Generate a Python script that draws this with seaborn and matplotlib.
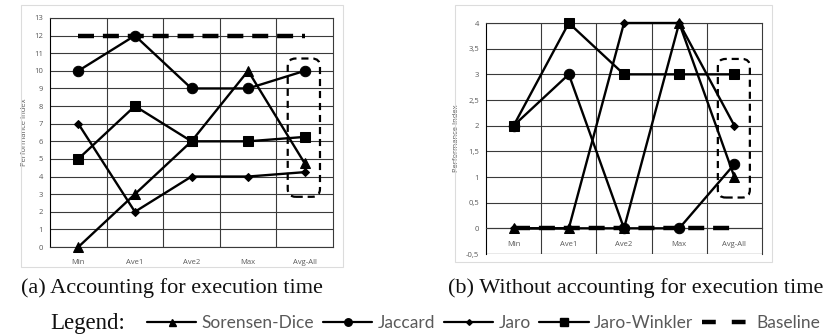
import numpy as np
import pandas as pd
import matplotlib
matplotlib.use("Agg")
import matplotlib.pyplot as plt
import seaborn as sns
from matplotlib.lines import Line2D
from matplotlib.patches import FancyBboxPatch, Rectangle

# ---- data -------------------------------------------------------------
categories = ["Min", "Ave1", "Ave2", "Max", "Avg-All"]
series_names = ["Sorensen-Dice", "Jaccard", "Jaro", "Jaro-Winkler", "Baseline"]

# (a) accounting for execution time
a_sorensen = [0, 3, 6, 10, 4.75]
a_jaccard = [10, 12, 9, 9, 10]
a_jaro = [7, 2, 4, 4, 4.25]
a_winkler = [5, 8, 6, 6, 6.25]
a_baseline = [12, 12, 12, 12, 12]

# (b) without accounting for execution time
b_sorensen = [0, 0, 0, 4, 1]
b_jaccard = [2, 3, 0, 0, 1.25]
b_jaro = [0, 0, 4, 4, 2]
b_winkler = [2, 4, 3, 3, 3]
b_baseline = [0, 0, 0, 0, 0]

a_yticks = list(range(0, 14))
a_ytick_labels = [str(v) for v in a_yticks]
b_yticks = [-0.5, 0, 0.5, 1, 1.5, 2, 2.5, 3, 3.5, 4]
b_ytick_labels = ["-0,5", "0", "0,5", "1", "1,5", "2", "2,5", "3", "3,5", "4"]

captions = ["(a) Accounting for execution time",
            "(b) Without accounting for execution time"]

# ---- styling ----------------------------------------------------------
sns.set_theme(style="white")
plt.rcParams["font.family"] = ["Open Sans", "DejaVu Sans"]

W, H = 826, 336
fig = plt.figure(figsize=(W / 100, H / 100), dpi=100)

markers = {"Sorensen-Dice": ("^", 7), "Jaccard": ("o", 7.5),
           "Jaro": ("D", 4), "Jaro-Winkler": ("s", 7.5)}
tick_color = "#595959"
grid_color = "#3a3a3a"


def px_axes(x0, y_top, x1, y_bot):
    return fig.add_axes([x0 / W, 1 - y_bot / H, (x1 - x0) / W, (y_bot - y_top) / H])


def frame(x0, y0, x1, y1):
    fig.patches.append(Rectangle((x0 / W, 1 - y1 / H), (x1 - x0) / W, (y1 - y0) / H,
                                 transform=fig.transFigure, fill=False,
                                 edgecolor="#dcdcdc", linewidth=0.8))


def draw_panel(ax, values, ylim, yticks, ylabels, box):
    df = pd.DataFrame({"cat": np.tile(categories, len(series_names)),
                       "series": np.repeat(series_names, len(categories)),
                       "value": np.concatenate(values)})
    # baseline first so the method lines sit on top of it
    base = df[df.series == "Baseline"]
    sns.lineplot(data=base, x="cat", y="value", ax=ax, color="black",
                 linewidth=3.2, dashes=False, sort=False, zorder=3)
    ax.lines[-1].set_dashes([3.6, 2.0])
    for name in series_names[:-1]:
        sub = df[df.series == name]
        m, ms = markers[name]
        sns.lineplot(data=sub, x="cat", y="value", ax=ax, color="black",
                     linewidth=1.7, marker=m, markersize=ms,
                     markeredgecolor="black", sort=False, zorder=4)
    for ln in ax.lines:
        ln.set_clip_on(False)
    ax.set_xlim(-0.5, len(categories) - 0.5)
    ax.set_ylim(*ylim)
    ax.set_yticks(yticks)
    ax.set_yticklabels(ylabels)
    ax.set_xticks(range(len(categories)))
    ax.set_xticklabels(categories)
    ax.set_xlabel("")
    ax.set_ylabel("Performance Index", fontsize=5.5, color=tick_color, labelpad=4)
    ax.tick_params(axis="both", length=0, labelsize=5.5, labelcolor=tick_color)
    ax.tick_params(axis="x", pad=9)
    ax.tick_params(axis="y", pad=5)
    for y in yticks:
        ax.axhline(y, color=grid_color, linewidth=0.8, zorder=1)
    for xb in np.arange(0.5, len(categories) - 0.5, 1.0):
        ax.axvline(xb, color=grid_color, linewidth=0.8, zorder=1)
    for s in ax.spines.values():
        s.set_visible(True)
        s.set_color(grid_color)
        s.set_linewidth(0.8)
    ax.spines["left"].set_color("black")
    ax.set_facecolor("none")
    # dashed rounded box around the overall average
    (bx0, bx1), (by0, by1) = box
    ax_w = ax.get_position().width * W / (len(categories))
    ax_h = ax.get_position().height * H / (ylim[1] - ylim[0])
    patch = FancyBboxPatch((bx0, by0), bx1 - bx0, by1 - by0,
                           boxstyle="round,pad=0,rounding_size=0.14",
                           mutation_aspect=ax_w / ax_h, fill=False,
                           edgecolor="black", linewidth=1.6,
                           linestyle=(0, (3.2, 2.2)), zorder=5)
    ax.add_patch(patch)


# panel (a)
frame(21, 5, 343, 267)
ax_a = px_axes(50, 18, 333, 247)
draw_panel(ax_a, [a_sorensen, a_jaccard, a_jaro, a_winkler, a_baseline],
           (0, 13), a_yticks, a_ytick_labels, ((3.7, 4.27), (2.85, 10.7)))

# panel (b)
frame(455, 5, 772, 262)
ax_b = px_axes(486, 23, 762, 254)
draw_panel(ax_b, [b_sorensen, b_jaccard, b_jaro, b_winkler, b_baseline],
           (-0.5, 4), b_yticks, b_ytick_labels, ((3.7, 4.28), (0.6, 3.3)))
ax_b.spines["bottom"].set_position(("data", 0))
ax_b.spines["bottom"].set_color(grid_color)
ax_b.axhline(-0.5, color=grid_color, linewidth=0.8, zorder=1)

# captions
serif = ["Liberation Serif", "DejaVu Serif"]
fig.text(172 / W, 1 - 288 / H, captions[0], family=serif, fontsize=16,
         va="center", ha="center", color="#111111")
fig.text(636 / W, 1 - 288 / H, captions[1], family=serif, fontsize=16,
         va="center", ha="center", color="#111111")
fig.text(50 / W, 1 - 323 / H, "Legend:", family=serif, fontsize=16.5,
         va="center", ha="left", color="#111111")

# legend
handles = []
for name in series_names[:-1]:
    m, ms = markers[name]
    handles.append(Line2D([], [], color="black", linewidth=1.6, marker=m,
                          markersize=ms * 0.72, markeredgecolor="black"))
handles.append(Line2D([], [], color="black", linewidth=3.2, dashes=[3.1, 3.6]))
leg = fig.legend(handles, series_names, loc="center left",
                 bbox_to_anchor=(147 / W, 1 - 323 / H), ncol=5, frameon=False,
                 handlelength=2.85, handletextpad=0.3, columnspacing=0.5,
                 borderpad=0, borderaxespad=0,
                 prop={"family": ["Lato", "DejaVu Sans"], "size": 12.5})
for t in leg.get_texts():
    t.set_color(tick_color)

fig.savefig("out.png", dpi=100)
